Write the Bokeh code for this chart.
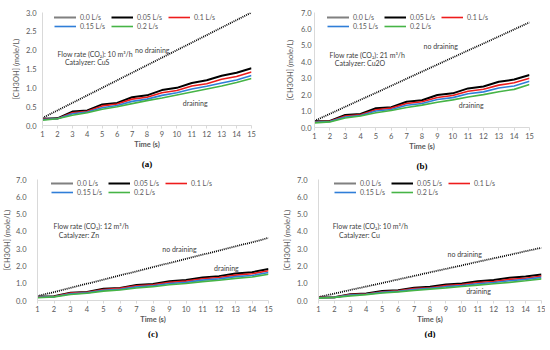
from bokeh.plotting import figure
from bokeh.models import Legend, LegendItem, Title, NumeralTickFormatter, FixedTicker, Range1d, Label
from bokeh.layouts import column, row
from bokeh.embed import file_html
from bokeh.resources import INLINE

# ---------------- data ----------------
time_s = [1, 2, 3, 4, 5, 6, 7, 8, 9, 10, 11, 12, 13, 14, 15]
series_labels = ["0.0 L/s", "0.05 L/s", "0.1 L/s", "0.15 L/s", "0.2 L/s"]

# (a) CuS, 10 m3/h
a_00 = [0.20, 0.40, 0.60, 0.80, 1.00, 1.20, 1.40, 1.60, 1.80, 2.00, 2.20, 2.40, 2.60, 2.80, 3.00]
a_005 = [0.18, 0.19, 0.37, 0.40, 0.56, 0.60, 0.75, 0.80, 0.94, 1.00, 1.13, 1.20, 1.32, 1.40, 1.52]
a_01 = [0.17, 0.18, 0.34, 0.38, 0.52, 0.57, 0.70, 0.75, 0.87, 0.93, 1.05, 1.11, 1.23, 1.30, 1.42]
a_015 = [0.16, 0.18, 0.31, 0.36, 0.47, 0.53, 0.64, 0.70, 0.80, 0.87, 0.97, 1.04, 1.13, 1.21, 1.33]
a_02 = [0.14, 0.18, 0.27, 0.34, 0.43, 0.50, 0.58, 0.66, 0.73, 0.81, 0.89, 0.97, 1.05, 1.14, 1.25]

# (b) Cu2O, 21 m3/h
b_00 = [0.40, 0.83, 1.26, 1.69, 2.11, 2.54, 2.97, 3.40, 3.83, 4.26, 4.69, 5.11, 5.54, 5.97, 6.40]
b_005 = [0.38, 0.40, 0.76, 0.82, 1.17, 1.24, 1.57, 1.66, 1.98, 2.08, 2.38, 2.50, 2.78, 2.92, 3.20]
b_01 = [0.35, 0.38, 0.70, 0.78, 1.08, 1.18, 1.46, 1.57, 1.83, 1.95, 2.21, 2.33, 2.58, 2.72, 3.00]
b_015 = [0.32, 0.36, 0.64, 0.73, 1.00, 1.10, 1.35, 1.46, 1.70, 1.82, 2.05, 2.17, 2.40, 2.53, 2.82]
b_02 = [0.28, 0.34, 0.58, 0.70, 0.90, 1.03, 1.22, 1.36, 1.54, 1.68, 1.86, 2.00, 2.18, 2.32, 2.62]

# (c) Zn, 12 m3/h
c_00 = [0.25, 0.49, 0.73, 0.97, 1.21, 1.45, 1.69, 1.93, 2.17, 2.41, 2.65, 2.89, 3.13, 3.37, 3.62]
c_005 = [0.22, 0.24, 0.45, 0.49, 0.68, 0.73, 0.90, 0.96, 1.11, 1.18, 1.33, 1.41, 1.56, 1.64, 1.82]
c_01 = [0.21, 0.23, 0.43, 0.47, 0.64, 0.70, 0.85, 0.91, 1.05, 1.12, 1.26, 1.33, 1.47, 1.55, 1.72]
c_015 = [0.19, 0.22, 0.39, 0.44, 0.59, 0.65, 0.79, 0.85, 0.98, 1.05, 1.18, 1.25, 1.38, 1.45, 1.62]
c_02 = [0.16, 0.21, 0.35, 0.42, 0.54, 0.61, 0.72, 0.80, 0.91, 0.98, 1.09, 1.17, 1.28, 1.36, 1.52]

# (d) Cu, 10 m3/h
d_00 = [0.20, 0.40, 0.61, 0.81, 1.01, 1.22, 1.42, 1.63, 1.83, 2.03, 2.24, 2.44, 2.64, 2.85, 3.05]
d_005 = [0.18, 0.19, 0.36, 0.40, 0.55, 0.60, 0.74, 0.79, 0.93, 0.99, 1.12, 1.19, 1.31, 1.39, 1.50]
d_01 = [0.17, 0.18, 0.34, 0.38, 0.51, 0.56, 0.69, 0.74, 0.86, 0.92, 1.04, 1.10, 1.22, 1.29, 1.42]
d_015 = [0.16, 0.18, 0.31, 0.36, 0.47, 0.53, 0.64, 0.70, 0.80, 0.87, 0.97, 1.04, 1.14, 1.22, 1.34]
d_02 = [0.14, 0.18, 0.27, 0.34, 0.43, 0.50, 0.58, 0.66, 0.73, 0.81, 0.89, 0.97, 1.05, 1.14, 1.25]

panel_letters = ["(a)", "(b)", "(c)", "(d)"]
flow_texts = ["Flow rate (CO\u2082): 10 m\u00b3/h", "Flow rate  (CO\u2082): 21 m\u00b3/h",
              "Flow rate  (CO\u2082): 12 m\u00b3/h", "Flow rate  (CO\u2082): 10 m\u00b3/h"]
catalyzer_texts = ["Catalyzer: CuS", "Catalyzer: Cu2O", "Catalyzer: Zn", "Catalyzer: Cu"]
y_max = [3.0, 7.0, 7.0, 7.0]
y_step = [0.5, 1.0, 1.0, 1.0]

# text positions (data coords)
flow_pos = [(2.0, 1.90), (1.98, 4.42), (1.97, 4.31), (1.89, 4.31)]
cat_pos = [(2.5, 1.68), (2.32, 3.91), (2.29, 3.80), (2.29, 3.80)]
nodrain_pos = [(7.2, 2.00), (8.1, 4.99), (8.56, 2.99), (9.1, 2.67)]
drain_pos = [(10.4, 0.59), (10.4, 1.34), (11.7, 1.90), (10.27, 0.55)]

all_series = [
    [a_00, a_005, a_01, a_015, a_02],
    [b_00, b_005, b_01, b_015, b_02],
    [c_00, c_005, c_01, c_015, c_02],
    [d_00, d_005, d_01, d_015, d_02],
]

# ---------------- styling ----------------
FONT = "Lato"
GRAY = "#595959"
colors = ["black", "black", "#EE1C1C", "#2F7ED8", "#46B446"]
widths = [1.8, 2.0, 1.6, 1.6, 1.6]
dashes = ["1 1", "solid", "solid", "solid", "solid"]

# frame sizes and borders (left, right, top, bottom); whole page 534 x 334
frames = [(209, 113), (215, 115), (231, 121), (223, 121)]
borders = [(42, 24, 12, 50), (39, 5, 11, 49), (32, 12, 4, 34), (32, 4, 4, 34)]
ylab_standoff = [6, 3, 11, 11]
yaxis_label_standoff = [2, 3, 1, 2]
legend_x = [12, 13, 14, 16]
legend_top = [9, 9, 8, 8]
legend_row_gap = [8.5, 8.5, 8.5, 8.5]
title_offset = [-5, -4, -10, -12]
title_standoff = [10, 10, 0, 0]


def make_panel(i):
    bl, br, bt, bb = borders[i]
    fw, fh = frames[i]
    p = figure(frame_width=fw, frame_height=fh, output_backend="svg", toolbar_location=None,
               x_range=Range1d(1, 15), y_range=Range1d(0, y_max[i]),
               min_border_left=bl, min_border_right=br, min_border_top=bt, min_border_bottom=bb)
    p.outline_line_color = None
    p.xgrid.grid_line_color = None
    p.ygrid.grid_line_color = None

    n = int(round(y_max[i] / y_step[i]))
    p.yaxis.ticker = FixedTicker(ticks=[k * y_step[i] for k in range(n + 1)])
    p.xaxis.ticker = FixedTicker(ticks=time_s)
    p.yaxis.formatter = NumeralTickFormatter(format="0.0")

    for ax in (p.xaxis[0], p.yaxis[0]):
        ax.axis_line_color = "#D9D9D9"
        ax.major_tick_line_color = "#D9D9D9"
        ax.minor_tick_line_color = None
        ax.major_label_text_font = FONT
        ax.major_label_text_font_size = "7.5px"
        ax.major_label_text_color = GRAY
        ax.axis_label_text_font = FONT
        ax.axis_label_text_font_size = "7.5px"
        ax.axis_label_text_color = GRAY
        ax.axis_label_text_font_style = "bold"
    p.xaxis.major_tick_in = 0
    p.xaxis.major_tick_out = 3
    p.xaxis.major_label_standoff = 2
    p.xaxis.axis_label_standoff = 0
    p.yaxis.major_tick_in = 0
    p.yaxis.major_tick_out = 0
    p.yaxis.major_label_standoff = ylab_standoff[i]
    p.yaxis.axis_label_standoff = yaxis_label_standoff[i]
    p.xaxis.axis_label = "Time (s)"
    p.yaxis.axis_label = "[CH3OH] (mole/L)"
    p.yaxis.axis_label_text_font_style = "normal"

    rends = []
    for k, ys in enumerate(all_series[i]):
        r = p.line(time_s, ys, line_color=colors[k], line_width=widths[k], line_dash=dashes[k])
        rends.append(r)

    common = dict(orientation="horizontal", glyph_width=22, glyph_height=8, label_height=8,
                  label_width=27, label_standoff=4, spacing=4, padding=0, margin=0,
                  border_line_color=None, background_fill_alpha=0,
                  label_text_font=FONT, label_text_font_size="7px", label_text_color=GRAY)
    lg1 = Legend(items=[LegendItem(label=series_labels[k], renderers=[rends[k]]) for k in range(3)],
                 location=(legend_x[i], fh - legend_top[i]), **common)
    lg2 = Legend(items=[LegendItem(label=series_labels[k], renderers=[rends[k]]) for k in range(3, 5)],
                 location=(legend_x[i], fh - legend_top[i] - legend_row_gap[i]), **common)
    p.add_layout(lg1)
    p.add_layout(lg2)

    txt = dict(text_font=FONT, text_font_size="7px", text_color="#404040", text_baseline="middle")
    p.add_layout(Label(x=flow_pos[i][0], y=flow_pos[i][1], text=flow_texts[i], **txt))
    p.add_layout(Label(x=cat_pos[i][0], y=cat_pos[i][1], text=catalyzer_texts[i], **txt))
    p.add_layout(Label(x=nodrain_pos[i][0], y=nodrain_pos[i][1], text="no draining", **txt))
    p.add_layout(Label(x=drain_pos[i][0], y=drain_pos[i][1], text="draining", **txt))

    t = Title(text=panel_letters[i], align="center", text_font="Liberation Serif",
              text_font_size="9px", text_font_style="bold", text_color="black",
              offset=title_offset[i], standoff=title_standoff[i])
    p.add_layout(t, "below")
    return p


panels = [make_panel(i) for i in range(4)]
layout = column(row(panels[0], panels[1]), row(panels[2], panels[3]))

open("out.html", "w").write(file_html(layout, INLINE))
